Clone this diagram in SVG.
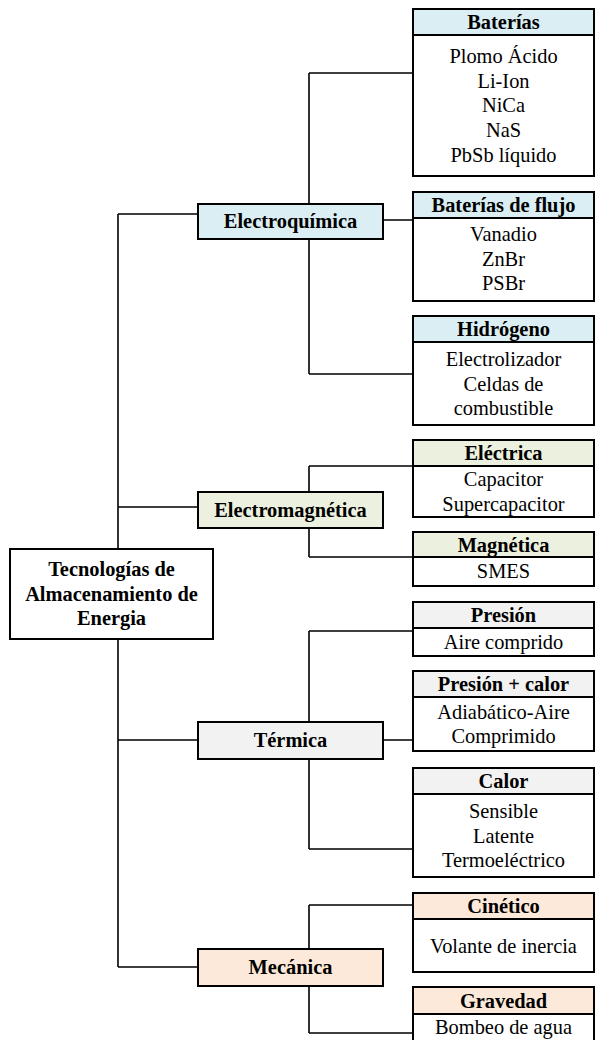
<svg xmlns="http://www.w3.org/2000/svg" width="595" height="1040" viewBox="0 0 595 1040">
<style>
  text { font-family: "Liberation Serif", "Times New Roman", serif; font-size: 20.4px; fill: #000; text-anchor: middle; }
  .b { font-weight: bold; }
  .box { fill: #fff; stroke: #000; stroke-width: 2; }
  .conn { fill: none; stroke: #000; stroke-width: 1.6; }
  .eq { fill: #DAEEF3; stroke: #000; stroke-width: 2; }
  .em { fill: #EBF1DE; stroke: #000; stroke-width: 2; }
  .te { fill: #F2F2F2; stroke: #000; stroke-width: 2; }
  .me { fill: #FDE9D9; stroke: #000; stroke-width: 2; }
</style>
<rect width="595" height="1040" fill="#fff"/>
<g id="connectors" class="conn">
  <path d="M118 214 V967 M118 214 H198 M118 507 H198 M118 740 H198 M118 967 H198"/>
  <path d="M309 73 V374 M309 73 H413 M383 220 H413 M309 374 H413"/>
  <path d="M309 466 V557 M309 466 H413 M309 557 H413"/>
  <path d="M309 631 V849 M309 631 H413 M383 740 H413 M309 849 H413"/>
  <path d="M309 905 V1033 M309 905 H413 M309 1033 H413"/>
</g>
<g id="root">
  <rect class="box" x="10" y="549" width="203" height="90"/>
  <text class="b" x="111.5" y="576">Tecnologías de</text>
  <text class="b" x="111.5" y="601">Almacenamiento de</text>
  <text class="b" x="111.5" y="625">Energia</text>
</g>
<g id="electroquimica">
  <rect class="eq" x="198" y="204" width="185" height="35"/>
  <text class="b" x="290.5" y="228">Electroquímica</text>
</g>
<g id="electromagnetica">
  <rect class="em" x="198" y="492" width="185" height="36"/>
  <text class="b" x="290.5" y="516.5">Electromagnética</text>
</g>
<g id="termica">
  <rect class="te" x="198" y="722" width="185" height="37"/>
  <text class="b" x="290.5" y="747">Térmica</text>
</g>
<g id="mecanica">
  <rect class="me" x="198" y="949" width="185" height="37"/>
  <text class="b" x="290.5" y="974">Mecánica</text>
</g>
<g id="baterias">
  <rect class="box" x="413" y="9" width="181" height="167"/>
  <rect class="eq" x="413" y="9" width="181" height="26"/>
  <text class="b" x="503.5" y="29">Baterías</text>
  <text x="503.5" y="63">Plomo Ácido</text>
  <text x="503.5" y="87.7">Li-Ion</text>
  <text x="503.5" y="112.4">NiCa</text>
  <text x="503.5" y="137.1">NaS</text>
  <text x="503.5" y="161.8">PbSb líquido</text>
</g>
<g id="baterias-flujo">
  <rect class="box" x="413" y="192" width="181" height="109"/>
  <rect class="eq" x="413" y="192" width="181" height="26"/>
  <text class="b" x="503.5" y="212">Baterías de flujo</text>
  <text x="503.5" y="241">Vanadio</text>
  <text x="503.5" y="265.7">ZnBr</text>
  <text x="503.5" y="290.4">PSBr</text>
</g>
<g id="hidrogeno">
  <rect class="box" x="413" y="316" width="181" height="109"/>
  <rect class="eq" x="413" y="316" width="181" height="26"/>
  <text class="b" x="503.5" y="336">Hidrógeno</text>
  <text x="503.5" y="366">Electrolizador</text>
  <text x="503.5" y="390.5">Celdas de</text>
  <text x="503.5" y="415">combustible</text>
</g>
<g id="electrica">
  <rect class="box" x="413" y="440" width="181" height="77"/>
  <rect class="em" x="413" y="440" width="181" height="26"/>
  <text class="b" x="503.5" y="460">Eléctrica</text>
  <text x="503.5" y="486">Capacitor</text>
  <text x="503.5" y="510.5">Supercapacitor</text>
</g>
<g id="magnetica">
  <rect class="box" x="413" y="532" width="181" height="54"/>
  <rect class="em" x="413" y="532" width="181" height="25"/>
  <text class="b" x="503.5" y="551.5">Magnética</text>
  <text x="503.5" y="578">SMES</text>
</g>
<g id="presion">
  <rect class="box" x="413" y="602" width="181" height="54"/>
  <rect class="te" x="413" y="602" width="181" height="26"/>
  <text class="b" x="503.5" y="622">Presión</text>
  <text x="503.5" y="649">Aire comprido</text>
</g>
<g id="presion-calor">
  <rect class="box" x="413" y="671" width="181" height="80"/>
  <rect class="te" x="413" y="671" width="181" height="26"/>
  <text class="b" x="503.5" y="691">Presión + calor</text>
  <text x="503.5" y="718.5">Adiabático-Aire</text>
  <text x="503.5" y="743">Comprimido</text>
</g>
<g id="calor">
  <rect class="box" x="413" y="768" width="181" height="109"/>
  <rect class="te" x="413" y="768" width="181" height="26"/>
  <text class="b" x="503.5" y="788">Calor</text>
  <text x="503.5" y="818">Sensible</text>
  <text x="503.5" y="842.5">Latente</text>
  <text x="503.5" y="867">Termoeléctrico</text>
</g>
<g id="cinetico">
  <rect class="box" x="413" y="893" width="181" height="79"/>
  <rect class="me" x="413" y="893" width="181" height="26"/>
  <text class="b" x="503.5" y="913">Cinético</text>
  <text x="503.5" y="953">Volante de inercia</text>
</g>
<g id="gravedad">
  <rect class="box" x="413" y="987" width="181" height="60"/>
  <rect class="me" x="413" y="987" width="181" height="27"/>
  <text class="b" x="503.5" y="1007.5">Gravedad</text>
  <text x="503.5" y="1034">Bombeo de agua</text>
</g>
</svg>
